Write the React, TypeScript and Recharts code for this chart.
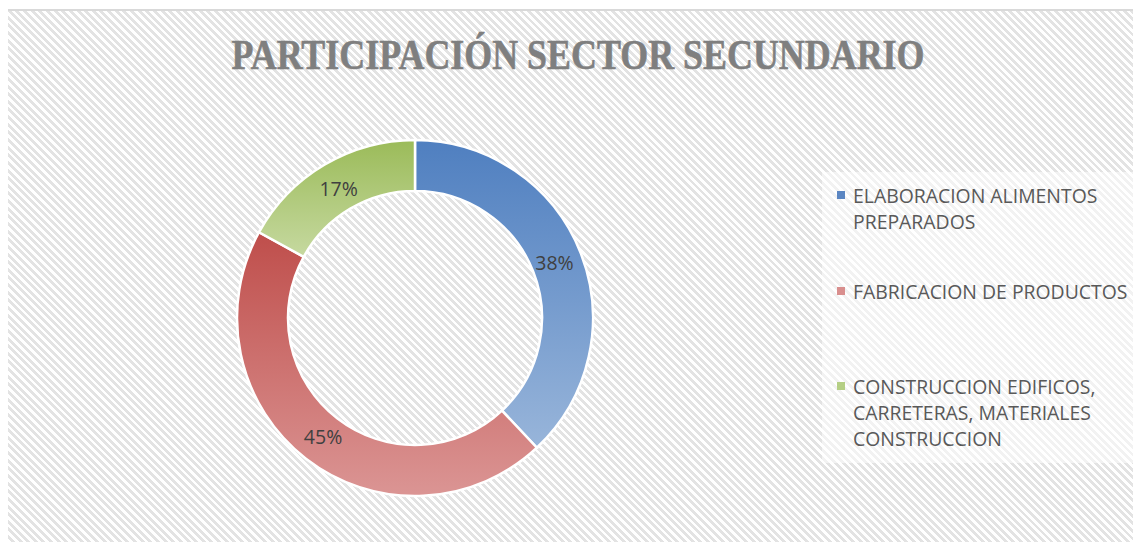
import React from "react";
import { PieChart, Pie, Cell, Legend } from "recharts";

const categories = [
  "ELABORACION ALIMENTOS PREPARADOS",
  "FABRICACION DE PRODUCTOS",
  "CONSTRUCCION EDIFICOS, CARRETERAS, MATERIALES CONSTRUCCION",
];
const shares = [38, 45, 17];
const legendLines = [
  ["ELABORACION ALIMENTOS", "PREPARADOS"],
  ["FABRICACION DE PRODUCTOS"],
  ["CONSTRUCCION EDIFICOS,", "CARRETERAS, MATERIALES", "CONSTRUCCION"],
];

const GRADS = [
  { id: "gBlue", top: "#4F7FC0", bottom: "#98B5DA", swatch: "#5B86C2" },
  { id: "gRed", top: "#BF4E4B", bottom: "#DB9594", swatch: "#D98F8E" },
  { id: "gGreen", top: "#9BBB59", bottom: "#C6D9A0", swatch: "#B5CF85" },
];

const data = categories.map((name, i) => ({ name, value: shares[i] }));

const RADIAN = Math.PI / 180;

const renderLabel = (props: any) => {
  const { cx, cy, midAngle, value } = props;
  const r = 150;
  const x = cx + r * Math.cos(-midAngle * RADIAN);
  const y = cy + r * Math.sin(-midAngle * RADIAN);
  return (
    <text
      x={x}
      y={y}
      fill="#404040"
      fontSize={19.5}
      fontFamily="'Open Sans', sans-serif"
      textAnchor="middle"
      dominantBaseline="central"
    >
      {`${value}%`}
    </text>
  );
};

const legendTops = [183, 279, 374];

const renderLegend = () => (
  <div style={{ position: "relative", width: 319, height: 291 }}>
    {legendLines.map((lines, i) => (
      <div
        key={i}
        style={{
          position: "absolute",
          left: 0,
          top: legendTops[i] - 172,
          fontFamily: "'Open Sans', sans-serif",
          fontSize: 19.4,
          lineHeight: "26px",
          color: "#595959",
        }}
      >
        <span
          style={{
            position: "absolute",
            left: 15,
            top: 8,
            width: 8,
            height: 8,
            background: GRADS[i].swatch,
          }}
        />
        {lines.map((l) => (
          <div key={l} style={{ marginLeft: 31, whiteSpace: "nowrap" }}>
            {l}
          </div>
        ))}
      </div>
    ))}
  </div>
);

export default function App() {
  return (
    <div style={{ margin: -8, position: "relative", width: 1141, height: 550, background: "#fff", overflow: "hidden" }}>
      <div
        style={{
          position: "absolute",
          left: 6,
          top: 9,
          width: 1200,
          height: 600,
          borderLeft: "2px solid #D9D9D9",
          borderTop: "2px solid #D9D9D9",
          background:
            "repeating-linear-gradient(45deg, #ffffff 0px, #ffffff 2.6px, #E3E3E3 2.6px, #E3E3E3 5.4px)",
        }}
      />
      <div
        style={{
          position: "absolute",
          left: 822,
          top: 172,
          width: 319,
          height: 291,
          background: "rgba(255,255,255,0.55)",
        }}
      />
      <div style={{ position: "absolute", left: 0, top: 0 }}>
        <PieChart width={1141} height={550}>
          <defs>
            {GRADS.map((g) => (
              <linearGradient key={g.id} id={g.id} x1="0" y1="0" x2="0" y2="1">
                <stop offset="0%" stopColor={g.top} />
                <stop offset="100%" stopColor={g.bottom} />
              </linearGradient>
            ))}
          </defs>
          <text
            x={578}
            y={69}
            textAnchor="middle"
            fill="#7F7F7F"
            stroke="#7F7F7F"
            strokeWidth={0.6}
            fontSize={42}
            fontWeight="bold"
            fontFamily="'Liberation Serif', 'DejaVu Serif', serif"
            textLength={693}
            lengthAdjust="spacingAndGlyphs"
          >
            PARTICIPACIÓN SECTOR SECUNDARIO
          </text>
          <Pie
            data={data}
            dataKey="value"
            nameKey="name"
            cx={410}
            cy={313}
            innerRadius={127}
            outerRadius={178}
            startAngle={90}
            endAngle={-270}
            stroke="#ffffff"
            strokeWidth={2.5}
            label={renderLabel}
            labelLine={false}
            isAnimationActive={false}
          >
            {data.map((d, i) => (
              <Cell key={d.name} fill={`url(#${GRADS[i].id})`} />
            ))}
          </Pie>
          <Legend
            content={renderLegend}
            wrapperStyle={{ left: 822, top: 172, width: 319, height: 291, bottom: "auto" }}
          />
        </PieChart>
      </div>
    </div>
  );
}
